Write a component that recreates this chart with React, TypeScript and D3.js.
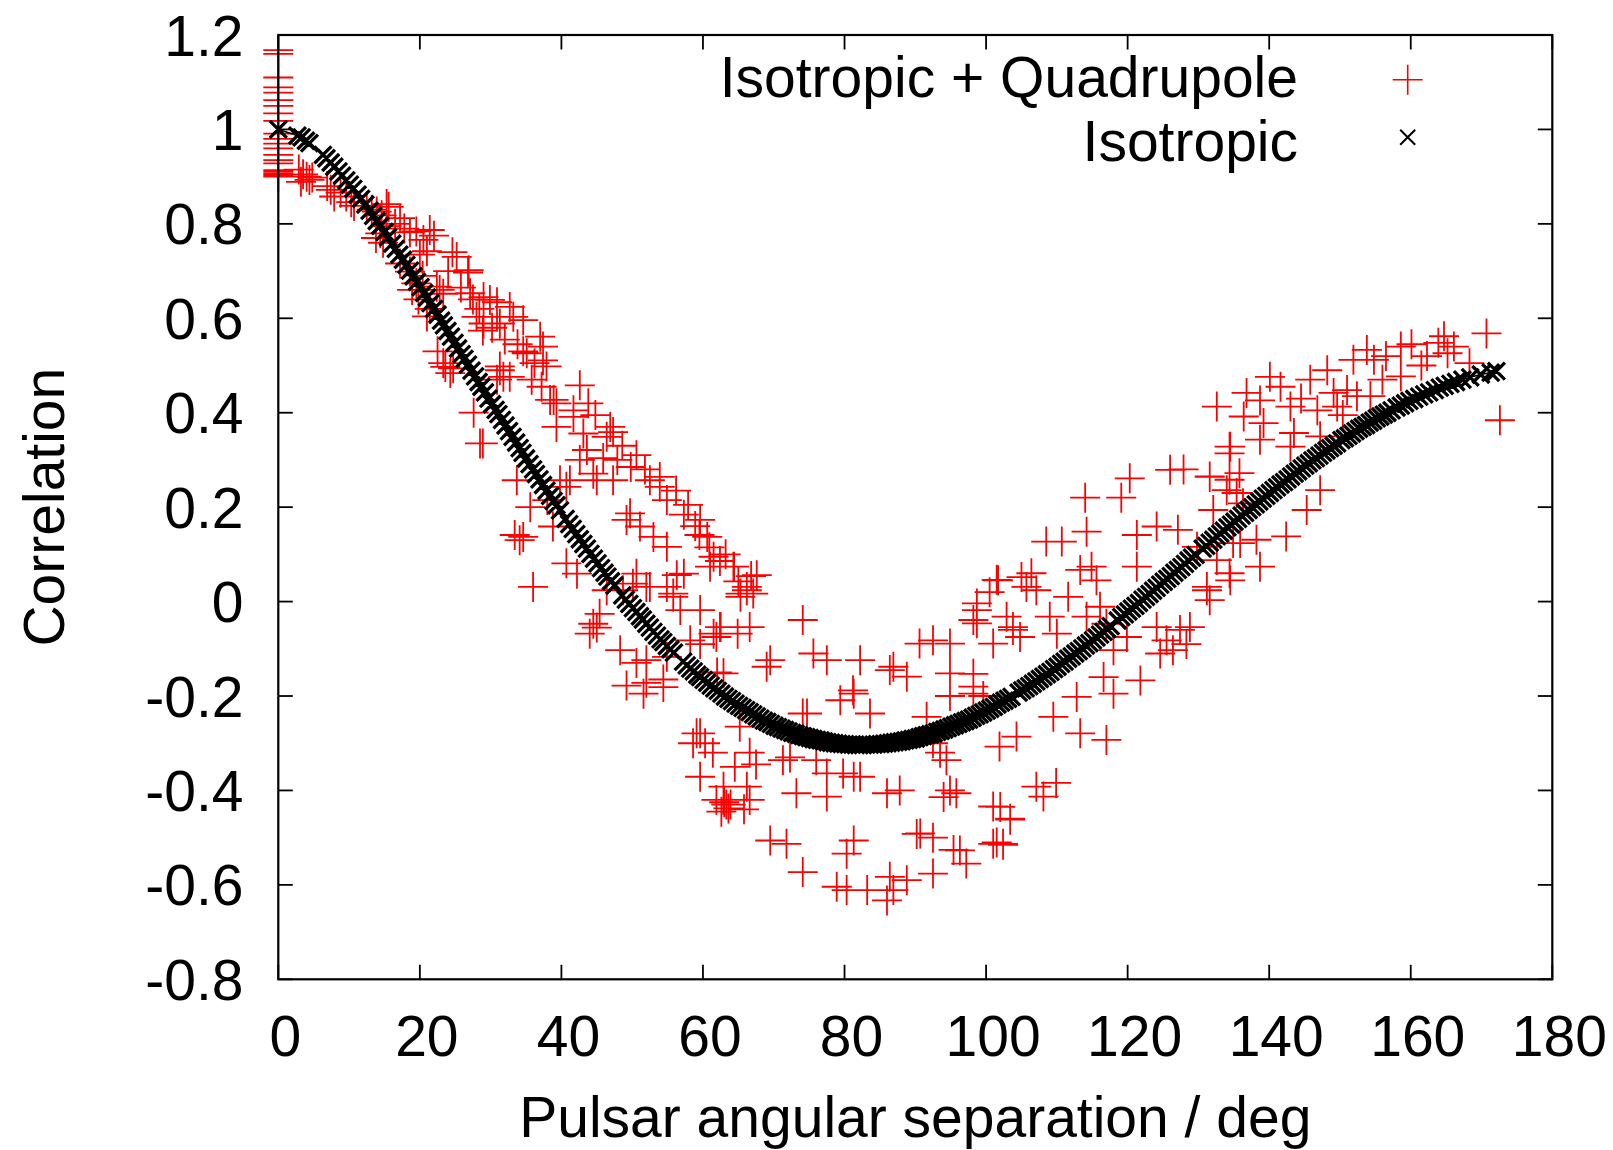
import React from 'react';
import * as d3 from 'd3';

const xTicks = [0, 20, 40, 60, 80, 100, 120, 140, 160, 180];
const yTicks = [-0.8, -0.6, -0.4, -0.2, 0, 0.2, 0.4, 0.6, 0.8, 1, 1.2];
const yTickLabels = ['-0.8', '-0.6', '-0.4', '-0.2', '0', '0.2', '0.4', '0.6', '0.8', '1', '1.2'];
const legendLabels = ['Isotropic + Quadrupole', 'Isotropic'];
const xTitle = 'Pulsar angular separation / deg';
const yTitle = 'Correlation';

// autocorrelation values (angle 0) of the Isotropic + Quadrupole series
const quadAuto = [1.168, 1.16, 1.11, 1.089, 1.078, 1.062, 1.05, 1.034, 1.018, 0.991, 0.98, 0.97, 0.96, 0.946, 0.935, 0.928, 0.914, 0.91, 0.906, 0.903, 0.9];

// Isotropic + Quadrupole: [angle, correlation]
const quadPoints: [number, number][] = [
  [2.9,.915],[3.5,.905],[4.0,.900],[4.4,.893],[3.2,.889],[4.8,.898],[6.9,.880],[7.4,.872],[7.9,.858],[8.8,.866],[9.6,.858],[10.3,.846],[10.7,.838],
  [12.5,.838],[13.2,.830],[13.9,.826],[14.6,.818],[15.3,.842],[15.6,.836],[17.2,.812],[16.5,.800],[15.3,.795],[14.4,.780],[14.8,.760],[13.8,.770],
  [17.8,.790],[18.6,.782],[19.5,.784],[20.5,.766],[21.0,.742],[21.4,.787],[22.0,.775],[20.0,.735],[17.2,.716],[18.6,.699],[19.5,.674],[20.4,.690],
  [22.4,.667],[23.3,.652],[24.6,.740],[25.2,.730],[26.8,.697],[26.9,.702],[21.0,.604],[21.4,.620],[22.8,.660],[23.3,.505],[24.3,.484],[23.6,.497],
  [24.7,.494],[22.5,.530],[19.8,.640],[18.9,.660],
  [24.0,.700],[25.8,.665],[27.5,.640],[28.4,.620],[30.2,.580],[32.0,.555],[33.8,.545],[36.2,.505],[35.8,.470],[37.2,.455],
  [29.0,.645],[30.9,.603],[32.7,.624],[29.0,.589],[28.0,.603],[34.6,.596],[37.4,.540],[37.9,.498],[31.3,.498],[32.7,.476],[38.9,.427],[35.1,.526],
  [27.1,.653],[29.9,.639],[30.9,.634],[31.3,.589],[33.2,.603],[28.9,.574],[37.0,.561],[37.4,.511],[34.6,.530],[31.3,.490],[31.8,.476],[30.9,.470],
  [42.6,.458],[38.4,.427],[39.3,.420],[41.7,.405],[41.7,.391],[27.6,.400],[28.5,.335],[39.3,.370],[43.1,.356],[47.3,.359],[46.4,.349],[50.6,.310],
  [43.6,.321],[42.6,.300],[45.9,.304],[44.5,.271],[45.0,.257],[41.2,.257],[40.7,.243],[33.7,.257],[53.9,.264],[53.9,.243],[52.5,.257],[54.9,.215],
  [43.8,.420],[44.8,.395],[46.9,.370],[48.6,.330],[47.9,.300],[49.8,.285],[51.8,.280],
  [49.7,.187],[49.2,.173],[51.1,.159],[53.0,.137],[54.9,.116],[59.6,.173],[60.6,.137],[61.5,.095],[64.4,.074],[66.2,.031],[65.3,.017],[62.5,-.054],
  [61.5,-.068],[55.8,.010],[56.8,-.018],[54.9,.031],[57.3,.059],[50.6,.059],[52.0,.031],[50.1,.038],[47.3,.257],[34.6,.137],[36.0,.031],[28.9,.335],
  [39.8,.257],[38.0,.215],[35.6,.200],[38.8,.159],[34.1,.130],[40.7,.081],[42.2,.059],[44.5,-.047],[44.0,-.068],[45.4,-.026],[48.3,-.103],[50.6,-.130],
  [52.0,-.172],[49.2,-.178],[54.4,-.165],[62.0,-.150],[59.6,-.090],[46.4,.024],[48.7,.024],[67.1,.017],[64.9,-.068],
  [57.3,.184],[59.5,.141],[62.4,.086],[65.0,.043],[66.8,.054],[65.3,.010],[33.4,.141],[45.0,-.055],
  [56.2,.235],[57.9,.205],[58.9,.160],[60.9,.115],[63.2,.100],
  [52.5,.031],[56.3,.056],[55.8,.017],[61.0,.074],[64.3,.074],[66.2,.024],[67.6,.056],[59.6,-.018],[62.4,-.054],[61.9,-.075],[66.6,-.054],[58.2,-.082],
  [54.9,-.117],[52.0,-.124],[51.6,-.195],[54.4,-.181],[62.9,-.152],[59.6,-.279],[58.6,-.300],[61.4,-.320],[59.6,-.371],[62.9,-.392],[62.9,-.420],
  [63.3,-.430],[66.2,-.392],[66.6,-.320],[65.2,-.265],[69.5,-.124],[69.0,-.138],[74.1,-.039],[75.6,-.110],[77.5,-.124],[81.3,-.195],[82.2,-.124],
  [86.4,-.145],[88.8,-.159],[86.9,-.138],[83.6,-.237],[74.1,-.237],[71.3,-.336],[72.3,-.330],[76.0,-.336],[79.8,-.364],[82.2,-.371],[73.2,-.406],
  [77.5,-.413],[86.0,-.406],[87.8,-.400],[69.5,-.506],[71.8,-.513],[74.1,-.573],[81.3,-.506],[80.3,-.534],[78.9,-.604],[80.3,-.611],[83.2,-.611],
  [86.0,-.633],[86.9,-.611],[86.4,-.583],[88.8,-.590],[90.2,-.492],[92.5,-.500],[92.5,-.576],[96.3,-.527],[94.9,-.400],[95.8,-.406],[93.5,-.320],
  [92.5,-.300],[91.6,-.244],[94.9,-.152],[98.2,-.195],[98.7,-.018],[98.7,-.046],[101.5,.046],[102.9,-.032],[101.0,-.089],[90.6,-.089],[92.5,-.082],
  [94.9,-.089],[102.0,-.435],[101.0,-.513],[102.4,-.513],[103.4,-.460],[103.8,-.060],[77.5,-.364],[79.4,-.209],[81.3,-.371],[66.6,-.420],[61.9,-.420],
  [63.0,-.425],[63.6,-.438],[62.6,-.445],[63.9,-.430],[59.1,-.279],[74.7,-.237],[81.2,-.188],[94.0,-.414],[90.7,-.491],
  [60.3,-.300],[64.5,-.350],[67.5,-.345],[65.8,-.440],
  [120.3,.261],[126.0,.279],[119.1,.220],[114.0,.220],[114.2,.148],[108.5,.127],[110.7,.127],[121.3,.141],[124.1,.159],[127.1,.152],[114.9,.074],
  [115.6,.045],[113.3,.067],[121.3,.074],[101.7,.045],[105.0,.052],[105.7,.031],[107.1,.024],[98.7,-.004],[98.2,-.039],[103.8,-.054],[104.8,-.075],
  [109.0,-.032],[110.0,-.068],[114.2,-.032],[116.1,-.011],[117.0,-.047],[119.9,-.075],[118.0,-.103],[124.1,-.054],[125.5,-.082],[127.4,-.060],
  [126.4,-.103],[124.6,-.110],[131.2,.024],[134.5,.045],[135.9,.124],[131.6,.264],[134.5,.328],[134.0,.236],[121.8,-.167],[116.6,-.160],[118.0,-.195],
  [112.8,-.202],[98.2,-.153],[98.2,-.180],[94.9,-.200],[99.6,-.200],[109.5,-.244],[113.3,-.279],[117.0,-.293],[104.3,-.286],[101.9,-.307],[94.4,-.336],
  [95.8,-.406],[108.1,-.413],[107.1,-.392],[109.9,-.384],[101.0,-.434],[103.4,-.462],[101.5,-.510],[102.4,-.515],[97.2,-.555],[95.4,-.526],
  [100.5,.020],[106.4,.060],[111.6,.010],
  [132.6,.413],[136.8,.442],[140.1,.476],[138.7,.426],[143.0,.413],[136.4,.392],[139.2,.378],[138.7,.343],[143.5,.357],[134.4,.328],[134.4,.314],
  [135.8,.272],[134.4,.258],[131.6,.265],[135.4,.230],[136.3,.208],[132.1,.194],[127.9,.280],[145.8,.470],[148.2,.490],[153.8,.533],[151.9,.512],
  [154.8,.512],[158.6,.540],[162.3,.520],[164.7,.562],[166.1,.540],[165.2,.526],[170.7,.568],[149.1,.442],[151.0,.448],[149.6,.413],[152.4,.435],
  [154.3,.435],[158.6,.477],[168.3,.505],[172.6,.384],[147.2,.350],[143.0,.328],[147.2,.236],[145.3,.194],[142.4,.138],[138.7,.074],[134.4,.060],
  [131.2,.031],[131.6,.003],[128.8,-.054],[128.3,-.090],[138.2,.131],[134.9,.124],[132.6,.088],[129.8,.116],[160.1,.545],[163.9,.548],[156.5,.520],
  [141.6,.455],[144.5,.430],[146.8,.405],[150.4,.395],[156.0,.470],[161.5,.500]
];

// Isotropic: [angle, correlation]
const isoPoints: [number, number][] = [
  [0,1.0],[2.7,.987],[3.3,.983],[3.9,.976],[4.4,.971],[6.3,.946],[6.8,.939],[7.4,.930],[7.9,.921],[8.5,.911],[9.0,.902],[9.6,.892],
  [10.1,.883],[10.6,.874],[11.2,.862],[11.7,.853],[12.3,.841],[12.9,.828],[13.4,.817],[13.9,.806],[14.4,.796],[15.0,.783],[15.5,.772],
  [16.1,.758],[16.6,.747],[17.1,.735],[17.6,.724],[18.1,.713],[18.6,.701],[19.1,.689],[19.6,.677],[20.1,.666],[20.6,.654],[21.0,.644],
  [21.5,.632],[22.0,.620],[22.5,.608],[23.0,.595],[23.4,.585],[23.9,.573],[24.4,.561],[24.9,.548],[25.4,.536],[25.9,.524],[26.3,.514],
  [26.8,.502],[27.3,.489],[27.8,.477],[28.3,.465],[28.7,.455],[29.2,.443],[29.7,.430],[30.2,.418],[30.7,.406],[31.1,.397],[31.6,.385],
  [32.1,.373],[32.6,.361],[33.1,.349],[33.6,.337],[34.1,.325],[34.5,.315],[35.0,.303],[35.5,.291],[36.0,.280],[36.4,.270],[36.9,.259],
  [37.4,.247],[37.9,.235],[38.4,.224],[38.9,.213],[39.3,.204],[39.8,.193],[40.6,.175],[41.1,.164],[41.6,.154],[42.1,.143],[42.6,.132],
  [43.1,.122],[43.6,.112],[44.1,.101],[44.6,.091],[45.1,.081],[45.6,.071],[46.1,.061],[46.5,.053],[47.0,.043],[47.5,.034],[48.6,.013],
  [49.1,.004],[49.6,-.005],[50.1,-.014],[50.6,-.022],[51.1,-.031],[51.5,-.038],[52.0,-.047],[52.5,-.055],[53.0,-.064],[53.5,-.072],
  [54.0,-.080],[54.4,-.086],[54.9,-.094],[55.4,-.101],[55.9,-.108],[57.2,-.127],[57.7,-.135],[58.2,-.142],[58.7,-.148],[59.2,-.155],
  [59.6,-.160],[60.1,-.166],[60.6,-.172],[61.1,-.178],[61.6,-.184],[62.1,-.189],[62.6,-.195],[63.1,-.201],[63.6,-.206],[64.1,-.211],
  [64.6,-.216],[65.1,-.221],[65.6,-.225],[66.1,-.230],[66.6,-.234],[67.1,-.239],[67.6,-.243],[68.1,-.248],[68.6,-.252],[69.1,-.255],
  [69.6,-.259],[70.1,-.263],[70.6,-.266],[71.1,-.269],[71.6,-.272],[72.1,-.275],[72.6,-.278],[73.1,-.280],[73.6,-.283],[74.1,-.285],
  [74.6,-.287],[75.1,-.289],[75.6,-.291],[76.1,-.293],[76.6,-.294],[77.1,-.296],[77.6,-.298],[78.1,-.299],[78.6,-.300],[79.1,-.301],
  [79.6,-.302],[80.1,-.302],[80.6,-.303],[81.1,-.303],[81.6,-.304],[82.1,-.304],[82.6,-.304],[83.1,-.303],[83.6,-.303],[84.1,-.303],
  [84.6,-.302],[85.1,-.302],[85.6,-.301],[86.1,-.300],[86.6,-.299],[87.1,-.298],[87.6,-.297],[88.1,-.296],[88.6,-.294],[89.1,-.293],
  [89.6,-.291],[90.1,-.290],[90.6,-.287],[91.1,-.285],[91.6,-.283],[92.1,-.281],[92.6,-.279],[93.1,-.276],[93.6,-.274],[94.1,-.271],
  [94.6,-.268],[95.1,-.265],[95.6,-.262],[96.1,-.259],[96.6,-.256],[97.1,-.253],[97.6,-.250],[98.1,-.246],[98.6,-.242],[99.1,-.239],
  [99.6,-.235],[100.1,-.231],[100.6,-.227],[101.1,-.223],[101.6,-.218],[102.1,-.214],[102.6,-.210],[103.1,-.206],[103.6,-.202],
  [104.6,-.193],[105.1,-.188],[105.6,-.184],[106.1,-.179],[106.6,-.174],[107.1,-.169],[107.6,-.164],[108.1,-.159],[108.6,-.154],
  [109.1,-.149],[109.6,-.143],[110.1,-.138],[110.6,-.132],[111.1,-.127],[111.6,-.121],[112.1,-.116],[112.6,-.110],[113.1,-.105],
  [113.6,-.099],[114.1,-.093],[114.6,-.088],[115.1,-.082],[115.6,-.076],[116.1,-.070],[116.6,-.064],[117.1,-.058],[117.6,-.052],
  [118.6,-.040],[119.1,-.033],[119.6,-.027],[120.1,-.021],[120.6,-.015],[121.1,-.009],[121.6,-.003],[122.1,.004],[122.6,.010],
  [123.1,.016],[123.6,.023],[124.1,.029],[124.6,.036],[125.1,.042],[125.6,.048],[126.1,.054],[126.6,.061],[127.1,.067],[127.6,.073],
  [128.1,.080],[128.6,.087],[129.1,.093],[129.6,.099],[130.6,.112],[131.1,.118],[131.6,.125],[132.1,.131],[132.6,.138],[133.1,.144],
  [133.6,.150],[134.1,.157],[134.6,.163],[135.1,.169],[135.6,.175],[136.1,.182],[136.6,.188],[137.1,.194],[137.6,.200],[138.1,.206],
  [138.6,.212],[139.1,.218],[139.6,.224],[140.1,.230],[140.6,.236],[141.1,.242],[141.6,.248],[142.1,.253],[142.6,.259],[143.1,.265],
  [143.6,.271],[144.1,.276],[144.6,.282],[145.1,.288],[145.6,.293],[146.1,.299],[146.6,.304],[147.1,.309],[147.6,.315],[148.1,.320],
  [148.6,.325],[149.1,.330],[149.6,.335],[150.2,.342],[150.7,.346],[151.2,.351],[151.7,.356],[152.2,.361],[152.7,.366],[153.2,.370],
  [153.7,.374],[154.2,.379],[154.7,.383],[155.2,.388],[155.7,.392],[156.2,.396],[156.7,.400],[157.3,.405],[158.0,.411],[158.6,.415],
  [159.2,.420],[159.8,.425],[160.5,.429],[161.2,.434],[161.9,.439],[162.6,.443],[163.4,.448],[164.1,.453],[164.8,.457],[165.6,.461],
  [166.4,.465],[167.3,.470],[168.4,.475],[169.9,.481],[171.3,.485],[172.1,.488]
];

const FONT = "'Liberation Sans', Arial, Helvetica, sans-serif";

export default function App() {
  const W = 1613, H = 1150;
  const left = 278.3, right = 1552.3, top = 35, bottom = 979.3;
  const x = d3.scaleLinear().domain([0, 180]).range([left, right]);
  const y = d3.scaleLinear().domain([-0.8, 1.2]).range([bottom, top]);
  const tickLen = 14.5;
  const plusSize = 15;
  const xSize = 8.5;
  const fs = 57;

  const plus = (cx: number, cy: number, s: number) =>
    `M${cx - s},${cy}H${cx + s}M${cx},${cy - s}V${cy + s}`;
  const cross = (cx: number, cy: number, s: number) =>
    `M${cx - s},${cy - s}L${cx + s},${cy + s}M${cx - s},${cy + s}L${cx + s},${cy - s}`;

  const allQuad: [number, number][] = [...quadAuto.map((v) => [0, v] as [number, number]), ...quadPoints];
  const redPath = allQuad.map((d) => plus(x(d[0]), y(d[1]), plusSize)).join('');
  const blackPath = isoPoints.map((d) => cross(x(d[0]), y(d[1]), xSize)).join('');
  const line = d3.line<[number, number]>().x((d) => x(d[0])).y((d) => y(d[1]));

  const legX = 1407.7;
  const legY = [79.7, 137.3];
  const legTextY = [97.2, 161.2];
  const legTextX = 1298;

  return (
    <div style={{ position: 'absolute', left: 0, top: 0, width: W, height: H, background: '#fff' }}>
      <svg width={W} height={H} viewBox={`0 0 ${W} ${H}`} style={{ display: 'block' }} fontFamily={FONT}>
        <rect x={0} y={0} width={W} height={H} fill="#fff" />
        {/* ticks */}
        <g stroke="#000" strokeWidth={1.8}>
          {xTicks.map((t) => (
            <g key={'xt' + t}>
              <line x1={x(t)} x2={x(t)} y1={bottom} y2={bottom - tickLen} />
              <line x1={x(t)} x2={x(t)} y1={top} y2={top + tickLen} />
            </g>
          ))}
          {yTicks.map((t) => (
            <g key={'yt' + t}>
              <line x1={left} x2={left + tickLen} y1={y(t)} y2={y(t)} />
              <line x1={right} x2={right - tickLen} y1={y(t)} y2={y(t)} />
            </g>
          ))}
        </g>
        {/* tick labels */}
        <g fontSize={fs} fill="#000">
          {xTicks.map((t) => (
            <text key={'xl' + t} x={x(t) + 7} y={1056} textAnchor="middle">{String(t)}</text>
          ))}
          {yTicks.map((t, i) => (
            <text key={'yl' + t} x={243.5} y={y(t) + 20.5} textAnchor="end">{yTickLabels[i]}</text>
          ))}
        </g>
        {/* axis titles */}
        <text x={(left + right) / 2} y={1137} fontSize={fs} textAnchor="middle" fill="#000">{xTitle}</text>
        <text transform={`translate(64,${(top + bottom) / 2}) rotate(-90)`} fontSize={fs} textAnchor="middle" fill="#000">{yTitle}</text>
        {/* data */}
        <path d={redPath} stroke="#ff0000" strokeWidth={1.8} fill="none" />
        <path d={line(isoPoints) || ''} stroke="#000" strokeWidth={1.5} fill="none" />
        <path d={blackPath} stroke="#000" strokeWidth={3.3} fill="none" />
        {/* frame */}
        <rect x={left} y={top} width={right - left} height={bottom - top} fill="none" stroke="#000" strokeWidth={2.2} />
        {/* legend */}
        <g fontSize={fs} fill="#000">
          <text x={legTextX} y={legTextY[0]} textAnchor="end">{legendLabels[0]}</text>
          <text x={legTextX} y={legTextY[1]} textAnchor="end">{legendLabels[1]}</text>
        </g>
        <path d={plus(legX, legY[0], plusSize)} stroke="#ff0000" strokeWidth={1.6} fill="none" />
        <path d={cross(legX, legY[1], 7.5)} stroke="#000" strokeWidth={2} fill="none" />
      </svg>
    </div>
  );
}
